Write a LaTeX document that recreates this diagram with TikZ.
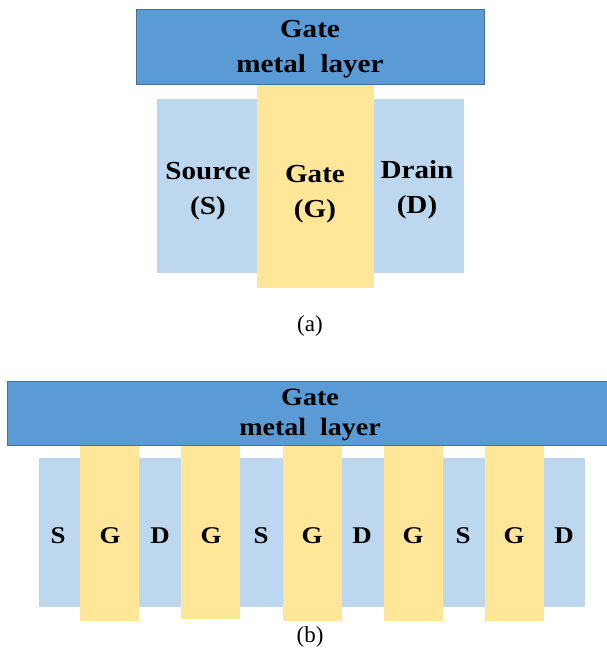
\documentclass[tikz,border=0pt]{standalone}
\usepackage{fontspec}
\setmainfont{Liberation Serif}
\usepackage{graphicx}
\definecolor{metalblue}{HTML}{5B9BD5}
\definecolor{metaledge}{HTML}{41719C}
\definecolor{sdblue}{HTML}{BDD7EE}
\definecolor{gateyellow}{HTML}{FFE699}
\newcommand{\widetext}[1]{\scalebox{1.12}[1]{#1}}
\tikzset{
  metal/.style={fill=metalblue, draw=metaledge, line width=0.9pt},
  sdregion/.style={fill=sdblue, draw=none},
  gatefinger/.style={fill=gateyellow, draw=none},
  bigtxt/.style={font=\fontsize{26}{35}\selectfont\bfseries, align=center, inner sep=0pt},
  hdrtxt/.style={font=\fontsize{25}{30}\selectfont\bfseries, align=center, inner sep=0pt},
  smalltxt/.style={font=\fontsize{24}{28}\selectfont\bfseries, inner sep=0pt},
  captxt/.style={font=\fontsize{23}{27}\selectfont, inner sep=0pt}
}
\begin{document}
\begin{tikzpicture}[x=1pt, y=-1pt]
\useasboundingbox (0,0) rectangle (607,653);

% ---- (a) single transistor ----
\fill[sdregion] (157,99) rectangle (257,273);
\fill[sdregion] (374,99) rectangle (464,273);
\fill[gatefinger] (257,84) rectangle (374,288);
\draw[metal] (136,9) rectangle (484,84);
\node[bigtxt] (ametal) at (310,49) {\widetext{Gate}\\\widetext{metal\ \ layer}};
\node[bigtxt] (asrc) at (208,191) {\widetext{Source}\\\widetext{(S)}};
\node[bigtxt] (agate) at (315,194) {\widetext{Gate}\\\widetext{(G)}};
\node[bigtxt] (adrn) at (417,190) {\widetext{Drain}\\\widetext{(D)}};
\node[captxt] (acap) at (310,326) {(a)};

% ---- (b) multi-finger transistor ----
\fill[sdregion] (39,458) rectangle (585,607);
\foreach \gx/\gb in {80/621, 181/619, 283/621, 384/621, 485/621}
  \fill[gatefinger] (\gx,445) rectangle ++(58.5,{\gb-445});
\draw[metal] (7,381) rectangle (608,445);
\node[hdrtxt] (bmetal) at (310,415) {\widetext{Gate}\\\widetext{metal\ \ layer}};
\foreach \lx/\lt [count=\i] in {58/S, 110/G, 160/D, 211/G, 261/S, 312/G, 362/D, 413/G, 463/S, 514/G, 564/D}
  \node[smalltxt] (blab\i) at (\lx,536) {\widetext{\lt}};
\node[captxt] (bcap) at (310,637) {(b)};
\end{tikzpicture}
\end{document}
